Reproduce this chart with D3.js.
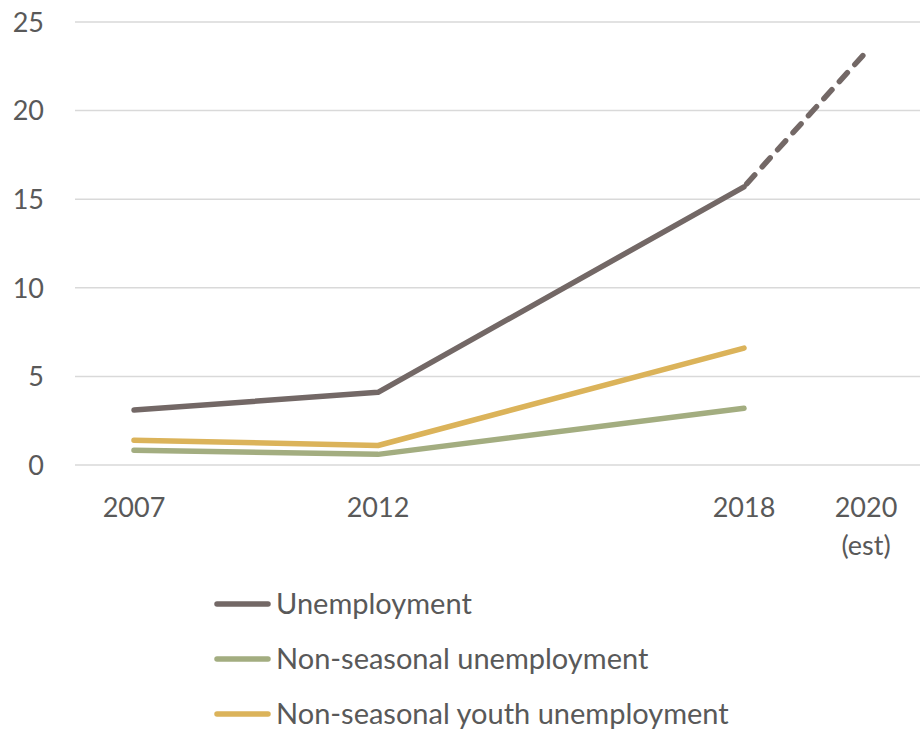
<!DOCTYPE html>
<html><head><meta charset="utf-8">
<script src="https://cdn.jsdelivr.net/npm/d3@7"></script>
<style>body{margin:0;background:#fff}svg{display:block}text{font-family:Lato,"Open Sans",sans-serif;fill:#595959}</style>
</head><body><svg id="c" width="920" height="732"></svg>
<script>
// x slots (chart uses an uneven category axis); s* are unlabeled gaps
const slots = ["2007", "s1", "2012", "s3", "s4", "2018", "2020"];
const xLabels = {"2007": ["2007"], "2012": ["2012"], "2018": ["2018"], "2020": ["2020", "(est)"]};
const years = ["2007", "2012", "2018"];
const unemployment = [3.1, 4.1, 15.7];
const unemploymentEst = [{year: "2018", v: 15.7}, {year: "2020", v: 23.3}];
const nonSeasonal = [0.83, 0.6, 3.2];
const youth = [1.4, 1.1, 6.6];
const yTicks = [0, 5, 10, 15, 20, 25];
const seriesNames = ["Unemployment", "Non-seasonal unemployment", "Non-seasonal youth unemployment"];
const colors = ["#736866", "#a3ad80", "#dbb35a"];

const svg = d3.select("#c");
const x = d3.scalePoint().domain(slots).range([73, 927]).padding(0.5);
const y = d3.scaleLinear().domain([0, 25]).range([465, 22]);

// grid
svg.append("g").selectAll("line").data(yTicks).join("line")
  .attr("x1", 75).attr("x2", 920).attr("y1", d => y(d)).attr("y2", d => y(d))
  .attr("stroke", "#d9d9d9").attr("stroke-width", 1.5);
// y labels
svg.append("g").selectAll("text").data(yTicks).join("text")
  .attr("x", 44).attr("y", d => y(d)).attr("dy", "0.36em").attr("text-anchor", "end")
  .attr("font-size", 27).text(d => d);
// x labels
const xl = svg.append("g").selectAll("text").data(Object.keys(xLabels)).join("text")
  .attr("x", d => x(d)).attr("y", 517).attr("text-anchor", "middle").attr("font-size", 27);
xl.selectAll("tspan").data(d => xLabels[d].map(t => ({t, k: d}))).join("tspan")
  .attr("x", d => x(d.k)).attr("dy", (d, i) => i ? 38 : 0).text(d => d.t);

const line = d3.line().x(d => x(d.year)).y(d => y(d.v));
const allSeries = [unemployment, nonSeasonal, youth];
const order = [1, 2, 0];
order.forEach(i => {
  const data = years.map((yr, j) => ({year: yr, v: allSeries[i][j]}));
  svg.append("path").datum(data).attr("d", line).attr("fill", "none")
    .attr("stroke", colors[i]).attr("stroke-width", 5.5).attr("stroke-linecap", "round").attr("stroke-linejoin", "round");
});
svg.append("path").datum(unemploymentEst).attr("d", line).attr("fill", "none")
  .attr("stroke", colors[0]).attr("stroke-width", 5.5).attr("stroke-linecap", "round")
  .attr("stroke-dasharray", "12 11").attr("stroke-dashoffset", -4);

// legend
const lg = svg.append("g").selectAll("g").data(seriesNames).join("g")
  .attr("transform", (d, i) => `translate(0,${604 + i * 55})`);
lg.append("line").attr("x1", 217).attr("x2", 268).attr("y1", 0).attr("y2", 0)
  .attr("stroke", (d, i) => colors[i]).attr("stroke-width", 5.5).attr("stroke-linecap", "round");
lg.append("text").attr("x", 276).attr("y", 0).attr("dy", "0.34em").attr("font-size", 29).text(d => d);
</script></body></html>
